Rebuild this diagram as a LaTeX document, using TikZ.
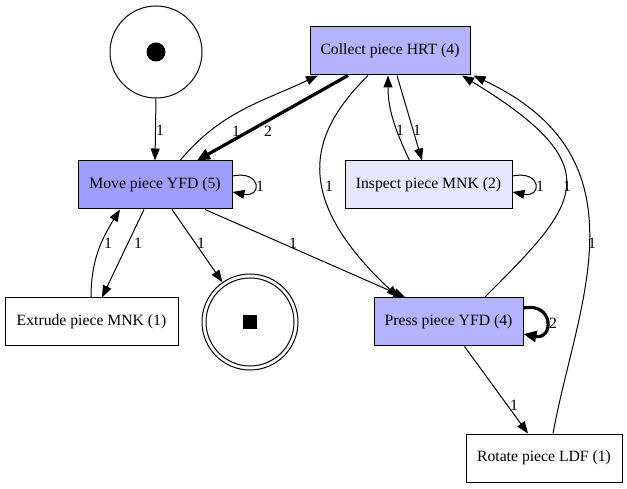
\documentclass[tikz,border=0pt]{standalone}
\usepackage{fontspec}
\setmainfont{Liberation Serif}
\usetikzlibrary{arrows.meta}
\definecolor{cmove}{HTML}{9E9EFF}
\definecolor{cmid}{HTML}{B3B3FF}
\definecolor{clight}{HTML}{E6E6FF}
\begin{document}
\begin{tikzpicture}[x=1pt,y=1pt,
  every node/.style={font=\fontsize{15.7}{18}\selectfont},
  trans/.style={draw,line width=1pt,rectangle,minimum height=48pt,inner sep=0pt},
  place/.style={draw,line width=1pt,circle,inner sep=0pt},
  arc/.style={line width=1pt,-{Triangle[length=12pt,width=9pt]}},
  thickarc/.style={line width=3.2pt,-{Triangle[length=13pt,width=11pt]}},
  lbl/.style={inner sep=0pt}]
\useasboundingbox (0,0) rectangle (627,488);
% nodes
\node[place,minimum size=92pt] (start) at (156,436) {};
\fill (start.center) circle (9.5pt);
\node[place,minimum size=96pt] (end) at (250,166) {};
\node[place,minimum size=88pt] (endin) at (250,166) {};
\fill (243,159) rectangle (257,173);
\node[trans,fill=cmid,minimum width=160pt] (collect) at (390,437) {Collect piece HRT (4)};
\node[trans,fill=cmove,minimum width=154pt] (move) at (155,303) {Move piece YFD (5)};
\node[trans,fill=clight,minimum width=167pt] (inspect) at (428.5,303) {Inspect piece MNK (2)};
\node[trans,fill=white,minimum width=173pt] (extrude) at (91.5,166) {Extrude piece MNK (1)};
\node[trans,fill=cmid,minimum width=149pt] (press) at (448.5,166) {Press piece YFD (4)};
\node[trans,fill=white,minimum width=156pt] (rotate) at (544,30) {Rotate piece LDF (1)};
% edges
\draw[arc] (start.south) -- (move.north);
\node[lbl] (l1) at (160,358) {1};
\draw[arc] ([xshift=25pt]move.north) to[out=50,in=205] ([xshift=-72pt]collect.south);
\node[lbl] (l2) at (236,357) {1};
\draw[thickarc] ([xshift=-42pt]collect.south) -- ([xshift=42pt]move.north);
\node[lbl] (l3) at (268,357) {2};
\draw[arc] ([yshift=9pt]move.east) .. controls (262,318) and (262,290) .. ([yshift=-7pt]move.east);
\node[lbl] (l4) at (260,302) {1};
\draw[arc] ([xshift=-11pt]move.south) -- ([xshift=10.5pt]extrude.north);
\node[lbl] (l5) at (138,245) {1};
\draw[arc] ([xshift=-0.5pt]extrude.north) to[out=90,in=238] ([xshift=-35pt]move.south);
\node[lbl] (l6) at (108,245) {1};
\draw[arc] ([xshift=17pt]move.south) -- (end);
\node[lbl] (l7) at (201,245) {1};
\draw[arc] ([xshift=50pt]move.south) -- ([xshift=-43pt]press.north);
\node[lbl] (l8) at (293,245) {1};
\draw[arc] ([xshift=7pt]collect.south) -- ([xshift=-6.5pt]inspect.north);
\node[lbl] (l9) at (417,358) {1};
\draw[arc] ([xshift=-19pt]inspect.north) to[out=115,in=270] ([xshift=-2pt]collect.south);
\node[lbl] (l10) at (400,358) {1};
\draw[arc] ([yshift=9pt]inspect.east) .. controls (542,318) and (542,290) .. ([yshift=-7pt]inspect.east);
\node[lbl] (l11) at (540,302) {1};
\draw[arc] ([xshift=-22pt]collect.south) .. controls (310,355) and (290,292) .. ([xshift=-50pt]press.north);
\node[lbl] (l12) at (329,302) {1};
\draw[arc] ([xshift=36pt]press.north) .. controls (578,284) and (614,320) .. ([xshift=72pt]collect.south);
\node[lbl] (l13) at (567,302) {1};
\draw[arc] ([xshift=9pt]rotate.north) .. controls (576,182) and (651,329) .. ([xshift=3pt]collect.south east);
\node[lbl] (l14) at (592,245) {1};
\draw[thickarc] ([yshift=14pt]press.east) .. controls (554,186) and (554,148) .. ([yshift=-12pt]press.east);
\node[lbl] (l15) at (553,165) {2};
\draw[arc] ([xshift=16pt]press.south) -- ([xshift=-16pt]rotate.north);
\node[lbl] (l16) at (514,83) {1};
\end{tikzpicture}
\end{document}
